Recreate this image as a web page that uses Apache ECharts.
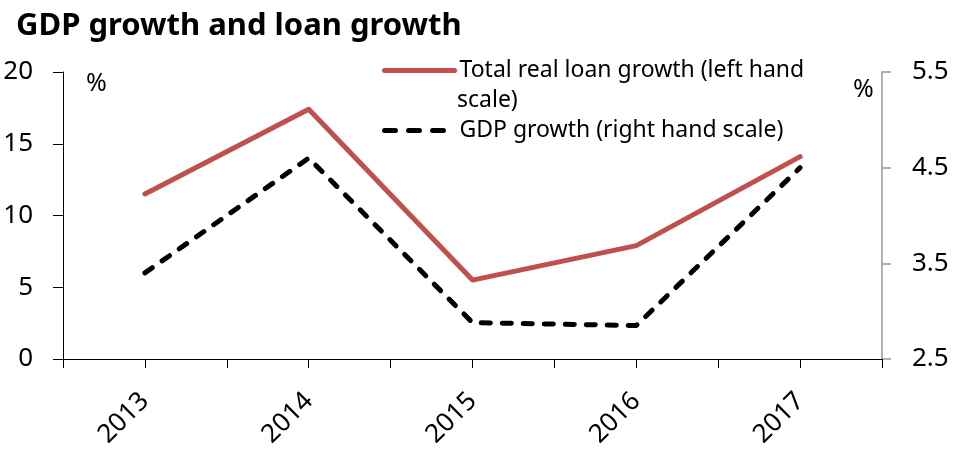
<!DOCTYPE html>
<html>
<head>
<meta charset="utf-8">
<script src="https://cdn.jsdelivr.net/npm/echarts@6/dist/echarts.min.js"></script>
<style>html,body{margin:0;padding:0;background:#fff;}#c{width:954px;height:451px;}</style>
</head>
<body>
<div id="c"></div>
<script>
const years = ['2013', '2014', '2015', '2016', '2017'];
const loanGrowth = [11.5, 17.4, 5.5, 7.9, 14.1];
const gdpGrowth = [3.4, 4.6, 2.88, 2.85, 4.5];
const leftTicks = [0, 5, 10, 15, 20];
const rightTicks = [2.5, 3.5, 4.5, 5.5];
const loanName = 'Total real loan growth (left hand scale)';
const gdpName = 'GDP growth (right hand scale)';

const FONT = 'Noto Sans';
const chart = echarts.init(document.getElementById('c'), null, {renderer: 'canvas'});
chart.setOption({
  backgroundColor: '#fff',
  animation: false,
  title: {
    text: 'GDP growth and loan growth',
    left: 11, top: 6,
    textStyle: {fontFamily: FONT, fontWeight: 'bold', fontSize: 31, color: '#000'}
  },
  legend: [{
    data: [loanName],
    left: 382, top: 59, padding: 0,
    itemWidth: 70, itemHeight: 14, itemGap: 5,
    formatter: () => 'Total real loan growth (left hand',
    textStyle: {fontFamily: FONT, fontSize: 23, color: '#000'},
    lineStyle: {width: 5},
    itemStyle: {opacity: 0}
  }, {
    data: [gdpName],
    left: 382, top: 119, padding: 0,
    itemWidth: 70, itemHeight: 14,
    textStyle: {fontFamily: FONT, fontSize: 23, color: '#000'},
    lineStyle: {width: 5, type: [11, 13], cap: 'round'},
    itemStyle: {opacity: 0}
  }],
  graphic: [
    {type: 'text', left: 457, top: 89, style: {text: 'scale)', fontFamily: FONT, fontSize: 23, fill: '#000'}},
    {type: 'text', left: 86, top: 71, style: {text: '%', fontFamily: FONT, fontSize: 25, fill: '#000'}},
    {type: 'text', left: 853, top: 77, style: {text: '%', fontFamily: FONT, fontSize: 25, fill: '#000'}}
  ],
  grid: {left: 63, right: 72, top: 72, bottom: 92, containLabel: false},
  xAxis: [{
    type: 'category', data: years, boundaryGap: true,
    axisLine: {lineStyle: {color: '#000', width: 1}},
    axisTick: {show: true, alignWithLabel: false, length: 9, lineStyle: {color: '#000'}},
    axisLabel: {rotate: 45, margin: 38, fontFamily: FONT, fontSize: 26, color: '#000'},
    splitLine: {show: false}
  }, {
    type: 'category', data: years, boundaryGap: true, position: 'bottom',
    axisLine: {show: false},
    axisTick: {show: true, alignWithLabel: true, length: 9, lineStyle: {color: '#000'}},
    axisLabel: {show: false},
    splitLine: {show: false}
  }],
  yAxis: [{
    type: 'value', min: 0, max: 20, interval: 5, position: 'left',
    axisLine: {show: true, lineStyle: {color: '#000', width: 1}},
    axisTick: {show: true, length: 10, lineStyle: {color: '#000'}, customValues: leftTicks},
    axisLabel: {margin: 30, fontFamily: FONT, fontSize: 26, color: '#000', customValues: leftTicks},
    splitLine: {show: false}
  }, {
    type: 'value', min: 2.5, max: 5.5, position: 'right',
    axisLine: {show: true, lineStyle: {color: '#999', width: 1.5}},
    axisTick: {show: true, length: 9, lineStyle: {color: '#999', width: 1.5}, customValues: rightTicks},
    axisLabel: {margin: 30, fontFamily: FONT, fontSize: 26, color: '#000', customValues: rightTicks,
      formatter: v => v.toFixed(1)},
    splitLine: {show: false}
  }],
  series: [{
    name: loanName, type: 'line', data: loanGrowth, xAxisIndex: 0, yAxisIndex: 0,
    symbol: 'none', smooth: false,
    lineStyle: {color: '#C0504D', width: 5, cap: 'round', join: 'round'},
    itemStyle: {color: '#C0504D'}
  }, {
    name: gdpName, type: 'line', data: gdpGrowth, xAxisIndex: 0, yAxisIndex: 1,
    symbol: 'none', smooth: false,
    lineStyle: {color: '#000', width: 5, type: [9, 12], cap: 'round', join: 'round'},
    itemStyle: {color: '#000'}
  }]
});
</script>
</body>
</html>
